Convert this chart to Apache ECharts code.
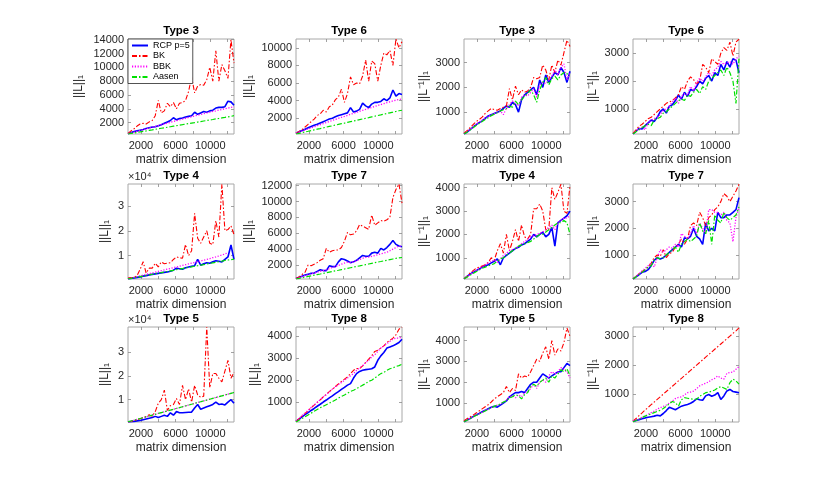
<!DOCTYPE html>
<html><head><meta charset="utf-8">
<script src="https://cdn.jsdelivr.net/npm/echarts@6/dist/echarts.min.js"></script>
<style>html,body{margin:0;padding:0;background:#fff}#c{width:817px;height:482px}</style>
</head><body><div id="c"></div>
<script>
// ---------- data ----------
const dims = [500,850,1200,1550,1900,2250,2600,2950,3300,3650,4000,4350,4700,5050,5400,5750,6100,6450,6800,7150,7500,7850,8200,8550,8900,9250,9600,9950,10300,10650,11000,11350,11700,12050,12400,12750];
const seriesNames = ['RCP p=5','BK','BBK','Aasen'];
const xTickValues = [2000,4000,6000,8000,10000,12000];
const xLabelValues = [2000,6000,10000];
const yTicks2to14k = [2000,4000,6000,8000,10000,12000,14000];
const yTicks2to10k = [2000,4000,6000,8000,10000];
const yTicks2to12k = [2000,4000,6000,8000,10000,12000];
const yTicks1to3k = [1000,2000,3000];
const yTicks1to4k = [1000,2000,3000,4000];
const yTicksE4 = [10000,20000,30000];

// Type 3, ||L||_1
const t3L_rcp = [400,550,700,800,900,1000,1150,1250,1350,1400,1550,1700,1900,2100,2300,2700,2400,2600,2650,2800,2900,3000,3500,3200,3400,3600,3500,3700,3800,4100,4200,4200,4300,5100,5000,4500];
const t3L_bk = [450,800,1100,1500,1800,1900,1800,2100,2300,3000,5200,3400,3700,4800,4300,4900,4000,4800,4900,5200,6500,8600,6300,7300,7500,7400,8200,10000,8000,12400,8000,10400,9500,8400,14000,10600];
const t3L_bbk = [400,510,620,740,860,980,1100,1230,1340,1450,1560,1690,1800,1920,2040,2170,2280,2400,2510,2620,2740,2850,2960,3070,3180,3290,3400,3500,3610,3700,3800,3900,4000,4100,4200,4300];
const t3L_aasen = [350,430,500,580,650,730,800,880,950,1030,1100,1180,1250,1330,1400,1480,1550,1630,1700,1780,1850,1930,2000,2080,2150,2230,2300,2380,2450,2530,2600,2680,2750,2830,2900,3000];
// Type 6, ||L||_1
const t6L_rcp = [300,450,600,750,900,1050,1200,1300,1450,1600,1750,1900,2000,2150,2300,2400,2500,2600,3200,2700,2800,3000,3700,3400,3200,3600,3800,3800,3900,4200,4000,4300,5200,4500,4800,4700];
const t6L_bk = [300,500,700,1000,1300,1600,1900,2300,2500,2900,2700,3300,3500,4100,4400,5300,3800,4800,6700,5800,6000,5900,6800,8600,6200,8500,8200,6200,8000,9400,9200,9700,8000,11000,10000,10700];
const t6L_bbk = [300,420,540,660,780,900,1020,1140,1260,1380,1500,1620,1740,1860,1980,2100,2200,2320,2440,2550,2660,2780,2890,3000,3100,3220,3330,3440,3550,3650,3760,3860,3960,4050,4130,4200];
const t6L_aasen = [200,280,360,440,510,590,670,750,820,900,980,1060,1130,1210,1290,1370,1440,1520,1600,1680,1750,1830,1910,1990,2060,2140,2220,2300,2370,2450,2530,2610,2680,2760,2840,2900];
// Type 3, ||L^-1||_1
const t3Li_rcp = [120,200,300,400,500,580,650,750,850,900,950,1000,1050,1150,1250,1200,1400,1300,1000,1500,1700,1800,1900,2000,1700,2300,2000,2500,2200,2400,2600,2500,2800,2600,2200,2650];
const t3Li_bk = [150,250,380,500,620,700,800,950,1050,1150,1100,1080,1150,1200,1250,1950,1500,2050,1700,1900,1800,1850,2000,2400,2350,2400,2900,2700,2300,2900,2600,3100,2900,3400,3900,3650];
const t3Li_bbk = [130,210,310,420,500,600,680,780,820,880,950,1000,1050,900,1150,1300,1450,1350,1250,1600,1700,1650,1800,1950,1600,2100,2200,2150,2300,2450,2700,2500,2800,2950,2300,2600];
const t3Li_aasen = [120,190,280,370,460,540,620,700,780,860,920,980,1050,1100,1150,1250,1200,1450,1300,1500,1650,1750,1900,1700,1400,1900,2200,2400,2100,2350,2450,2300,2500,2600,2550,2500];
// Type 6, ||L^-1||_1
const t6Li_rcp = [100,200,300,280,400,500,600,550,700,900,1000,850,1100,1150,1300,1500,1350,1600,1450,1700,1650,1800,2000,1900,2100,2200,2000,2300,2200,2600,2400,2700,2500,2800,2750,2300];
const t6Li_bk = [120,250,380,450,550,650,700,800,900,1000,1100,1200,1250,1300,1400,1500,1800,1700,2000,2150,2050,1900,2000,2600,2500,2300,2800,2700,2600,3000,3200,3100,3400,2900,3400,3500];
const t6Li_bbk = [100,220,280,350,250,500,600,650,700,800,950,1000,1100,1250,1400,1200,1450,1550,1500,1800,1650,1950,2100,2000,2150,2300,2200,2400,2500,2700,2600,2650,2700,2600,2800,2900];
const t6Li_aasen = [100,180,250,330,400,450,400,600,650,700,850,900,1000,1100,1200,1300,1350,1300,1500,1450,1600,1700,1550,1800,1700,2000,2100,2200,2300,2400,2200,2500,2300,2000,1200,2800];
// Type 4, ||L||_1
const t4L_rcp = [700,900,1100,1300,1500,1800,2000,2300,2500,2700,2900,3100,3300,3500,3800,4200,5000,4800,4600,5200,5500,5800,6000,8500,6200,6800,7200,7000,7600,8000,7800,7500,8500,9500,14300,8500];
const t4L_bk = [1000,1200,1300,2000,4500,7600,3000,5000,5000,7000,5500,7500,6800,7000,7200,8500,9500,9200,9000,14500,10000,12000,27000,17000,15000,17500,20000,15000,14500,24000,17500,38700,20000,20500,22000,18500];
const t4L_bbk = [700,1000,1300,1600,1900,2200,2500,2800,3100,3400,3700,4000,4300,4600,4900,5200,5500,5800,6100,6400,6700,7000,7300,7600,7900,8200,8500,8800,9200,9500,9900,10300,10700,11200,null,null];
const t4L_aasen = [700,920,1170,1380,1630,1840,2090,2300,2550,2760,3010,3220,3470,3680,3930,4140,4390,4600,4850,5060,5310,5520,5770,5980,6230,6440,6690,6900,7150,7360,7610,7820,8070,8280,8450,8600];
// Type 7, ||L||_1
const t7L_rcp = [300,450,600,750,850,950,1000,1200,1400,1300,1300,1900,1800,1800,2400,2800,2700,2500,2300,2400,2600,2900,3200,3100,3100,3500,3600,3500,4100,3900,4200,4600,5100,4600,4400,4300];
const t7L_bk = [300,500,800,1100,2000,1900,2100,2300,2600,2800,4100,3600,3800,3900,3900,4200,5000,6100,5800,5900,6300,7100,6900,6700,6500,8300,7000,7300,7600,7500,7700,8000,10500,11500,12200,9800];
const t7L_bbk = [300,420,540,660,780,900,1000,1100,1200,1300,1400,1550,1700,1800,1950,2100,2250,2350,2300,2400,2550,2700,2850,2950,3000,3100,3200,3300,3400,3500,3600,3800,4000,4200,4400,4300];
const t7L_aasen = [240,320,400,480,560,640,720,800,870,950,1030,1110,1190,1270,1340,1420,1500,1580,1660,1740,1820,1890,1970,2050,2130,2210,2290,2370,2440,2520,2600,2680,2760,2840,2900,2950];
// Type 4, ||L^-1||_1
const t4Li_rcp = [100,200,300,380,450,520,600,650,700,780,850,950,700,1000,1100,1200,1300,1400,1450,1550,1600,1700,1800,2000,1900,2000,2100,1900,2000,2300,1500,2500,2600,2700,2800,3000];
const t4Li_bk = [100,200,350,450,550,600,650,700,800,1000,900,1300,1600,1200,2000,1300,1700,2200,1700,2400,1900,1800,2000,3100,3100,3300,3000,2200,2200,4000,3500,3800,4150,3000,2900,4100];
const t4Li_bbk = [100,180,280,380,460,540,620,700,780,850,900,800,950,1100,1200,1300,1350,1400,1500,1600,1700,1800,1900,1950,2000,2050,2100,2200,2300,2400,2200,2500,2600,2700,2700,2800];
const t4Li_aasen = [100,170,250,330,400,470,550,600,650,700,750,850,950,1000,1100,1200,1300,1400,1500,1550,1600,1650,1700,1800,1900,2000,2000,2100,2200,2300,2400,2500,2500,2600,2500,2000];
// Type 7, ||L^-1||_1
const t7Li_rcp = [100,180,260,350,380,450,600,800,900,850,900,1000,1100,1200,1300,1400,1300,1650,1600,1700,2000,1700,1600,1400,2200,1900,2000,1900,2600,2400,2400,2500,2500,2600,2700,3150];
const t7Li_bk = [100,200,300,380,450,550,700,900,1000,950,1200,900,1050,1100,1300,1400,1600,1400,1600,2100,2200,2100,2600,2400,2100,2400,2500,2700,2800,3000,3300,3200,3000,3200,3400,3650];
const t7Li_bbk = [100,200,300,400,500,600,700,550,900,1200,1100,1200,1300,1250,1400,1300,1800,1700,1600,1800,2100,1800,2200,2000,1800,2700,2700,2600,2600,2500,2600,2300,2200,1500,2400,2800];
const t7Li_aasen = [100,180,270,350,450,550,600,800,900,850,900,1000,1100,1200,1300,1100,1400,1500,1600,1500,1600,1700,2200,1900,1800,2300,1400,2500,2300,2200,2600,2400,2300,2400,2500,2800];
// Type 5, ||L||_1
const t5L_rcp = [700,800,900,1100,1300,1600,1900,2200,2500,3000,2500,3000,3500,3000,4500,3500,5000,4500,4500,4600,4700,4800,6500,8000,6000,6500,7000,7500,8000,9000,8000,8200,7800,9000,10000,8500];
const t5L_bk = [700,900,1200,1600,2000,2500,3000,3700,3000,5000,8500,10000,14000,5500,7500,8000,10500,8000,16000,10000,14500,9000,16000,12000,11000,11500,40500,15000,21000,21000,19000,17500,22000,26500,19000,21500];
const t5L_bbk = [700,1040,1390,1750,2100,2450,2800,3150,3510,3860,4210,4560,4910,5270,5620,5970,6320,6670,7030,7380,7730,8080,8430,8790,9140,9490,9840,10190,10550,10900,11250,11600,11950,12310,12660,13010];
const t5L_aasen = [700,1050,1400,1760,2110,2460,2810,3160,3520,3870,4220,4570,4920,5280,5630,5980,6330,6680,7040,7390,7740,8090,8440,8800,9150,9500,9850,10200,10560,10910,11260,11610,11960,12320,12670,13020];
// Type 8, ||L||_1
const t8L_rcp = [150,250,350,450,540,640,730,830,920,1020,1110,1210,1300,1400,1490,1590,1680,1780,1850,2100,2300,2400,2450,2480,2500,2520,2600,2900,3100,3250,3450,3500,3550,3620,3700,3850];
const t8L_bk = [150,270,390,510,630,760,880,1000,1120,1250,1370,1490,1600,1720,1830,1950,2050,2150,2300,2450,2530,2520,2650,2800,2950,3100,3300,3350,3450,3550,3700,3800,3900,4050,4300,4400];
const t8L_bbk = [150,280,410,530,650,770,890,1010,1130,1250,1350,1470,1600,1700,1800,1900,2000,2100,2200,2300,2450,2550,2650,2800,2900,3050,3150,3300,3450,3550,3650,3750,3850,3900,3900,3950];
const t8L_aasen = [120,200,280,360,440,520,600,680,760,830,900,970,1040,1110,1200,1270,1340,1420,1500,1550,1620,1700,1780,1850,1950,2000,2100,2200,2300,2350,2450,2520,2560,2620,2660,2720];
// Type 5, ||L^-1||_1
const t5Li_rcp = [100,180,260,350,430,500,580,650,730,800,850,800,900,1000,1100,1300,1400,1500,1500,1550,1500,1700,1900,2000,2000,2200,2400,2300,2200,2300,2400,2500,2500,2700,2900,2800];
const t5Li_bk = [150,250,330,420,520,620,720,820,920,1050,1200,1300,1400,1500,1800,1500,1700,1600,2400,2200,2300,2250,2500,2800,3100,3000,3400,3700,3100,4000,3300,3600,3500,3900,4600,4200];
const t5Li_bbk = [100,180,250,340,420,480,560,640,700,780,830,900,950,1050,1150,1300,1350,1250,1400,1300,1500,1550,1700,1900,1700,2000,2100,2000,2300,2500,2400,2500,2700,2600,2500,2200];
const t5Li_aasen = [100,170,250,330,400,470,550,620,700,770,840,900,950,1050,1100,1250,1300,1400,1350,1200,1400,1500,1800,1900,1800,2000,2100,2200,2000,2300,2200,2400,2600,2500,2650,2300];
// Type 8, ||L^-1||_1
const t8Li_rcp = [80,110,140,170,200,220,240,260,290,270,350,450,560,520,480,540,600,630,660,700,760,850,820,800,950,1000,940,980,1060,830,950,1120,1170,1100,1080,1060];
const t8Li_bk = [90,180,280,370,470,560,650,740,830,920,1010,1100,1190,1280,1370,1460,1550,1640,1730,1820,1910,2000,2090,2180,2270,2360,2450,2540,2630,2720,2810,2900,2990,3080,3170,3270];
const t8Li_bbk = [90,130,170,220,270,320,380,430,500,550,590,640,700,780,860,900,920,980,1060,1080,1110,1200,1290,1340,1380,1430,1500,1550,1630,1560,1520,1720,1750,1760,1860,1950];
const t8Li_aasen = [70,110,160,210,260,300,340,380,420,460,520,600,680,760,720,600,820,890,870,850,840,830,940,1000,1060,1080,1110,1150,1220,1270,1220,1170,1400,1520,1460,1350];

// ---------- layout ----------
const FONT = '"Liberation Sans", Arial, Helvetica, sans-serif';
const colLeft = [128, 296, 464, 633];
const rowTop = [39, 184, 327];
const PW = 106, PH = 95;
const nL = '||L||\u2081', nLi = '||L\u207B\u00B9||\u2081';

const panels = [
  {title:'Type 3', yName:nL,  s:[t3L_rcp,t3L_bk,t3L_bbk,t3L_aasen], yMin:350, yMax:14100, yTicks:yTicks2to14k, gap:43},
  {title:'Type 6', yName:nL,  s:[t6L_rcp,t6L_bk,t6L_bbk,t6L_aasen], yMin:200, yMax:11000, yTicks:yTicks2to10k, gap:41},
  {title:'Type 3', yName:nLi, s:[t3Li_rcp,t3Li_bk,t3Li_bbk,t3Li_aasen], yMin:120, yMax:3950, yTicks:yTicks1to3k, gap:34},
  {title:'Type 6', yName:nLi, s:[t6Li_rcp,t6Li_bk,t6Li_bbk,t6Li_aasen], yMin:100, yMax:3510, yTicks:yTicks1to3k, gap:34},
  {title:'Type 4', yName:nL,  s:[t4L_rcp,t4L_bk,t4L_bbk,t4L_aasen], yMin:650, yMax:38800, yTicks:yTicksE4, gap:17, e4:true},
  {title:'Type 7', yName:nL,  s:[t7L_rcp,t7L_bk,t7L_bbk,t7L_aasen], yMin:240, yMax:12200, yTicks:yTicks2to12k, gap:41},
  {title:'Type 4', yName:nLi, s:[t4Li_rcp,t4Li_bk,t4Li_bbk,t4Li_aasen], yMin:90, yMax:4160, yTicks:yTicks1to4k, gap:34},
  {title:'Type 7', yName:nLi, s:[t7Li_rcp,t7Li_bk,t7Li_bbk,t7Li_aasen], yMin:100, yMax:3660, yTicks:yTicks1to3k, gap:34},
  {title:'Type 5', yName:nL,  s:[t5L_rcp,t5L_bk,t5L_bbk,t5L_aasen], yMin:640, yMax:40500, yTicks:yTicksE4, gap:17, e4:true},
  {title:'Type 8', yName:nL,  s:[t8L_rcp,t8L_bk,t8L_bbk,t8L_aasen], yMin:120, yMax:4400, yTicks:yTicks1to4k, gap:35},
  {title:'Type 5', yName:nLi, s:[t5Li_rcp,t5Li_bk,t5Li_bbk,t5Li_aasen], yMin:90, yMax:4650, yTicks:yTicks1to4k, gap:34},
  {title:'Type 8', yName:nLi, s:[t8Li_rcp,t8Li_bk,t8Li_bbk,t8Li_aasen], yMin:60, yMax:3300, yTicks:yTicks1to3k, gap:34}
];

const styles = [
  {color:'#0000FF', width:1.6, type:'solid'},
  {color:'#FF0000', width:1.1, type:[5,2,1.5,2]},
  {color:'#FF00FF', width:1.3, type:[1.2,1.6]},
  {color:'#00E000', width:1.2, type:[5,2,1.5,2]}
];

const axisGray = '#a8a8a8';
const tickStyle = {color:'#8a8a8a', width:0.8};
const labelStyle = {color:'#262626', fontSize:11, fontFamily:FONT};
const plain = v => String(v);

const grid=[], xAxis=[], yAxis=[], series=[], graphic=[];
panels.forEach((p,k)=>{
  const r = Math.floor(k/4), c = k%4;
  grid.push({left:colLeft[c], top:rowTop[r], width:PW, height:PH, show:true,
    borderColor:axisGray, borderWidth:1, backgroundColor:'#fff', containLabel:false});
  xAxis.push({type:'value', gridIndex:k, min:500, max:12750, position:'bottom',
    name:'matrix dimension', nameLocation:'middle', nameGap:20,
    nameTextStyle:{color:'#262626', fontSize:12, fontFamily:FONT},
    axisLine:{show:false}, splitLine:{show:false},
    axisTick:{show:true, inside:true, length:3, customValues:xTickValues, lineStyle:tickStyle},
    axisLabel:{customValues:xLabelValues, margin:6, formatter:plain, ...labelStyle}});
  xAxis.push({type:'value', gridIndex:k, min:500, max:12750, position:'top',
    name:p.title, nameLocation:'middle', nameGap:2,
    nameTextStyle:{color:'#000', fontSize:11.5, fontWeight:'bold', fontFamily:FONT},
    axisLine:{show:false}, splitLine:{show:false},
    axisTick:{show:true, inside:true, length:3, customValues:xTickValues, lineStyle:tickStyle},
    axisLabel:{show:false}});
  yAxis.push({type:'value', gridIndex:k, min:p.yMin, max:p.yMax, position:'left',
    name:p.yName, nameLocation:'middle', nameGap:p.gap, nameRotate:90,
    nameTextStyle:{color:'#262626', fontSize:12, fontFamily:FONT},
    axisLine:{show:false}, splitLine:{show:false},
    axisTick:{show:true, inside:true, length:3, customValues:p.yTicks, lineStyle:tickStyle},
    axisLabel:{customValues:p.yTicks, margin:4, ...labelStyle,
      formatter: p.e4 ? (v=>String(Math.round(v/10000))) : plain}});
  yAxis.push({type:'value', gridIndex:k, min:p.yMin, max:p.yMax, position:'right',
    axisLine:{show:false}, splitLine:{show:false},
    axisTick:{show:true, inside:true, length:3, customValues:p.yTicks, lineStyle:tickStyle},
    axisLabel:{show:false}});
  p.s.forEach((arr,j)=>{
    series.push({type:'line', name:seriesNames[j], xAxisIndex:2*k, yAxisIndex:2*k,
      data: dims.map((x,i)=>[x, arr[i]]), symbol:'none', showSymbol:false,
      lineStyle:{color:styles[j].color, width:styles[j].width, type:styles[j].type},
      itemStyle:{color:styles[j].color}, connectNulls:false, animation:false, z:2+j});
  });
  if (p.e4) {
    graphic.push({type:'text', left:colLeft[c], top:rowTop[r]-13,
      style:{text:'\u00D710\u2074', fill:'#262626', fontSize:11, fontFamily:FONT}});
  }
});

const chart = echarts.init(document.getElementById('c'));
chart.setOption({
  backgroundColor:'#fff',
  animation:false,
  grid, xAxis, yAxis, series, graphic,
  legend:{data:seriesNames, orient:'vertical', left:128, top:39, selectedMode:false,
    backgroundColor:'#fff', borderColor:'#262626', borderWidth:0.8, borderRadius:0,
    padding:[2,3,2,3], itemGap:1.5, itemWidth:16, itemHeight:9,
    itemStyle:{color:'rgba(0,0,0,0)', borderWidth:0, opacity:0},
    textStyle:{fontSize:9, color:'#000', fontFamily:FONT}, z:10}
});
</script></body></html>
